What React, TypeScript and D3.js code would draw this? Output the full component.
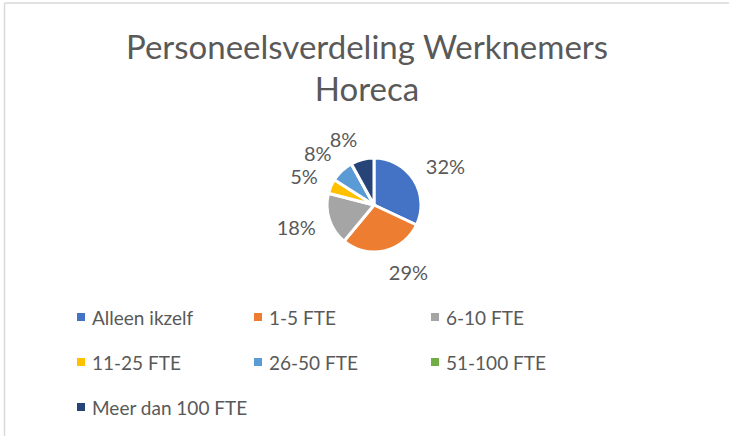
import React from 'react';
import * as d3 from 'd3';

// categories and shares (percent)
const categories = [
  'Alleen ikzelf',
  '1-5 FTE',
  '6-10 FTE',
  '11-25 FTE',
  '26-50 FTE',
  '51-100 FTE',
  'Meer dan 100 FTE',
];
const shares = [32, 29, 18, 5, 8, 0, 8];
const colors = ['#4472C4', '#ED7D31', '#A5A5A5', '#FFC000', '#5B9BD5', '#70AD47', '#264478'];
const titleLines = ['Personeelsverdeling Werknemers', 'Horeca'];

const W = 729;
const H = 436;
const font = 'Lato, "Open Sans", sans-serif';
const textColor = '#595959';

const App: React.FC = () => {
  const cx = 374;
  const cy = 205;
  const radius = 47;

  const pie = d3
    .pie<number>()
    .sort(null)
    .value(d => d);
  const arcs = pie(shares);

  const arc = d3.arc<d3.PieArcDatum<number>>().innerRadius(0).outerRadius(radius);
  // anchor point just outside the rim; the label box hangs outward from it ("best fit")
  const anchorArc = d3.arc<d3.PieArcDatum<number>>().innerRadius(radius + 12).outerRadius(radius + 12);

  // legend grid: 3 columns
  const legendX = (i: number) => 77 + (i % 3) * 177;
  const legendY = (i: number) => 317 + Math.floor(i / 3) * 45;

  return (
    <svg
      width={W}
      height={H}
      style={{ position: 'absolute', left: 0, top: 0, background: '#fff' }}
      fontFamily={font}
    >
      {/* chart frame */}
      <line x1={4.5} y1={3} x2={W} y2={3} stroke="#d9d9d9" strokeWidth={1.5} />
      <line x1={4.5} y1={3} x2={4.5} y2={H} stroke="#d9d9d9" strokeWidth={1.5} />

      {/* title */}
      {titleLines.map((t, i) => (
        <text
          key={t}
          x={367}
          y={59 + i * 42}
          textAnchor="middle"
          fontSize={33}
          fill={textColor}
        >
          {t}
        </text>
      ))}

      {/* slices */}
      <g transform={`translate(${cx},${cy})`}>
        {arcs.map((a, i) => (
          <path key={i} d={arc(a) || ''} fill={colors[i]} stroke="#fff" strokeWidth={3} />
        ))}
        {arcs.map((a, i) => {
          if (a.data === 0) return null;
          const [ax, ay] = anchorArc.centroid(a);
          const mid = (a.startAngle + a.endAngle) / 2;
          const s = Math.sin(mid);
          const c = Math.cos(mid);
          const dy = -Math.max(-1, Math.min(1, c * 1.5)) * 9;
          return (
            <text
              key={'l' + i}
              x={ax + (s >= 0 ? 2 : -2)}
              y={ay + dy}
              textAnchor={s >= 0 ? 'start' : 'end'}
              dominantBaseline="central"
              fontSize={20}
              fill={textColor}
            >
              {a.data}%
            </text>
          );
        })}
      </g>

      {/* legend */}
      {categories.map((c, i) => (
        <g key={c}>
          <rect x={legendX(i)} y={legendY(i) - 4} width={8} height={8} fill={colors[i]} />
          <text
            x={legendX(i) + 15}
            y={legendY(i)}
            dominantBaseline="central"
            fontSize={19}
            fill={textColor}
          >
            {c}
          </text>
        </g>
      ))}
    </svg>
  );
};

export default App;
